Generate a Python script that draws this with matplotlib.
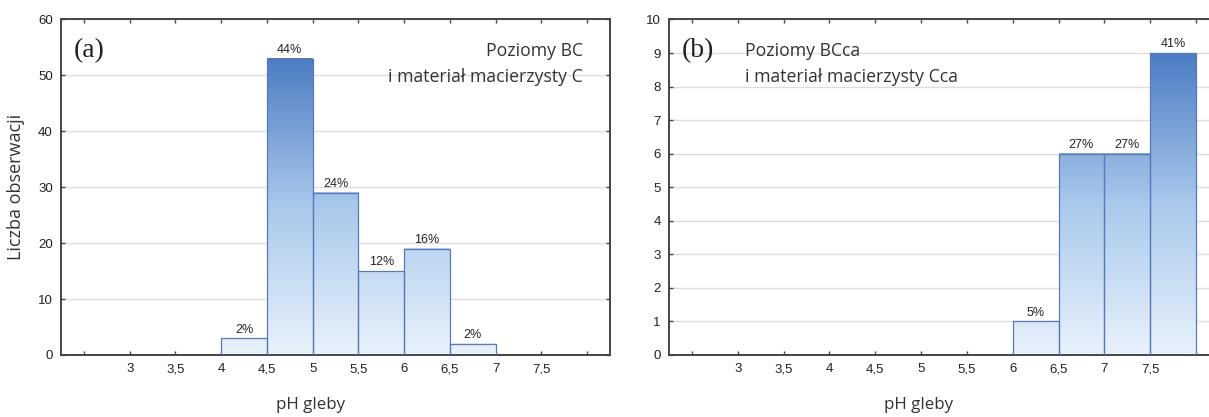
import numpy as np
import matplotlib
matplotlib.use("Agg")
import matplotlib.pyplot as plt
from matplotlib.colors import LinearSegmentedColormap

# bin edges (pH) and counts
bins_a = [4.0, 4.5, 5.0, 5.5, 6.0, 6.5]
counts_a = [3, 53, 29, 15, 19, 2]
pct_a = ["2%", "44%", "24%", "12%", "16%", "2%"]

bins_b = [6.0, 6.5, 7.0, 7.5]
counts_b = [1, 6, 6, 9]
pct_b = ["5%", "27%", "27%", "41%"]

xticks = [2.5, 3, 3.5, 4, 4.5, 5, 5.5, 6, 6.5, 7, 7.5, 8]
xticklabels = ["", "3", "3,5", "4", "4,5", "5", "5,5", "6", "6,5", "7", "7,5", ""]

cmap = LinearSegmentedColormap.from_list("blu", ["#e9f2fc", "#a9c9ec", "#4c7cc4"])
SANS = ["Open Sans", "DejaVu Sans"]
ARIAL = ["Liberation Sans", "DejaVu Sans"]


def panel(ax, edges, counts, pcts, ymax, ystep):
    ax.set_xlim(2.25, 8.25)
    ax.set_ylim(0, ymax)
    ax.set_yticks(np.arange(0, ymax + ystep / 2, ystep))
    ax.set_xticks(xticks)
    ax.set_xticklabels(xticklabels)
    ax.grid(axis="y", color="#dddddd", linewidth=1.0)
    ax.set_axisbelow(True)
    bars = ax.bar(edges, counts, width=0.5, align="edge", facecolor="none",
                  edgecolor="#5b78b8", linewidth=0.9, zorder=3)
    vmax = max(counts)
    grad = np.linspace(0, 1, 256).reshape(-1, 1)
    for b, pct in zip(bars, pcts):
        x0, w, h = b.get_x(), b.get_width(), b.get_height()
        ax.imshow(grad * (h / vmax), extent=(x0, x0 + w, 0, h), origin="lower",
                  cmap=cmap, vmin=0, vmax=1, aspect="auto", zorder=2,
                  interpolation="bilinear")
        ax.text(x0 + w / 2, h + ymax * 0.008, pct,
                ha="center", va="bottom", fontsize=9, family=ARIAL, color="#222222")
    ax.set_xlim(2.25, 8.25)
    ax.set_ylim(0, ymax)
    ax.tick_params(direction="in", top=True, right=True, length=3, width=1,
                   color="#444444", labelsize=9.5, pad=6)
    for lab in ax.get_xticklabels() + ax.get_yticklabels():
        lab.set_family(ARIAL)
        lab.set_color("#222222")
    for s in ax.spines.values():
        s.set_color("#444444")
        s.set_linewidth(1.4)
    ax.set_xlabel("pH gleby", family=SANS, fontsize=12.2, labelpad=15, color="#333333")
    ax.xaxis.set_label_coords(0.4536, -0.125)


fig = plt.figure(figsize=(12.09, 4.17), dpi=100)
ax1 = fig.add_axes([0.0505, 0.1487, 0.4541, 0.8046])
ax2 = fig.add_axes([0.5533, 0.1487, 0.4549, 0.8046])

panel(ax1, bins_a, counts_a, pct_a, 60, 10)
panel(ax2, bins_b, counts_b, pct_b, 10, 1)

ax1.set_ylabel("Liczba obserwacji", family=SANS, fontsize=13, labelpad=9, color="#333333")

ax1.text(0.024, 0.908, "(a)", transform=ax1.transAxes, family="Liberation Serif",
         fontsize=20, va="center", ha="left", color="#222222")
ax1.text(0.951, 0.905, "Poziomy BC", transform=ax1.transAxes, family=SANS,
         fontsize=12.7, va="center", ha="right", color="#333333")
ax1.text(0.951, 0.828, "i materiał macierzysty C", transform=ax1.transAxes, family=SANS,
         fontsize=12.7, va="center", ha="right", color="#333333")

ax2.text(0.024, 0.908, "(b)", transform=ax2.transAxes, family="Liberation Serif",
         fontsize=20, va="center", ha="left", color="#222222")
ax2.text(0.138, 0.905, "Poziomy BCca", transform=ax2.transAxes, family=SANS,
         fontsize=12.7, va="center", ha="left", color="#333333")
ax2.text(0.138, 0.828, "i materiał macierzysty Cca", transform=ax2.transAxes, family=SANS,
         fontsize=12.7, va="center", ha="left", color="#333333")

fig.savefig("out.png", dpi=100)
